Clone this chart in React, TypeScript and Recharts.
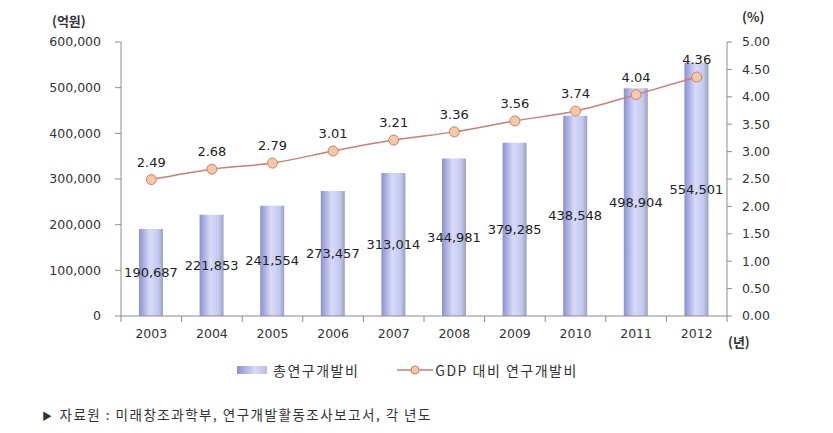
import React from 'react';
import {
  ComposedChart, Bar, Line, XAxis, YAxis, LabelList,
} from 'recharts';

const YEARS = ['2003', '2004', '2005', '2006', '2007', '2008', '2009', '2010', '2011', '2012'];
const TOTAL_RND = [190687, 221853, 241554, 273457, 313014, 344981, 379285, 438548, 498904, 554501];
const GDP_RATIO = [2.49, 2.68, 2.79, 3.01, 3.21, 3.36, 3.56, 3.74, 4.04, 4.36];
const LEFT_TICKS = [0, 100000, 200000, 300000, 400000, 500000, 600000];
const RIGHT_TICKS = [0, 0.5, 1, 1.5, 2, 2.5, 3, 3.5, 4, 4.5, 5];

const data = YEARS.map((year, i) => ({ year, total: TOTAL_RND[i], ratio: GDP_RATIO[i] }));

const FONT = '"DejaVu Sans", Verdana, sans-serif';
const KFONT = '"Noto Sans CJK KR", "Noto Sans", sans-serif';
const AXIS = '#8c8c8c';
const TEXT = '#333';
const LINE = '#c97f72';
const DOT = '#f7c8a4';
const X_MARGIN = 13;

const fmt = (v: number) => v.toLocaleString('en-US');

// category label plus Excel-style tick marks between categories
function YearTick(props: any) {
  const { x, y, width, payload, index } = props;
  const half = width / YEARS.length / 2;
  const axisY = y - X_MARGIN;
  return (
    <g>
      <line x1={x - half} x2={x - half} y1={axisY} y2={axisY + 6} stroke={AXIS} />
      {index === YEARS.length - 1 && (
        <line x1={x + half} x2={x + half} y1={axisY} y2={axisY + 6} stroke={AXIS} />
      )}
      <text x={x} y={y} dy="0.71em" textAnchor="middle" fill={TEXT} fontSize={12.5} fontFamily={FONT}>
        {payload.value}
      </text>
    </g>
  );
}

export default function App() {
  return (
    <div style={{ position: 'absolute', left: 0, top: 0, width: 833, height: 433, background: '#fff', fontFamily: FONT }}>
      {/* unit labels */}
      <div style={{ position: 'absolute', left: 52, top: 11, fontSize: 13, fontWeight: 'bold', color: TEXT, fontFamily: KFONT }}>(억원)</div>
      <div style={{ position: 'absolute', left: 742, top: 7, fontSize: 13, fontWeight: 'bold', color: TEXT, fontFamily: KFONT }}>(%)</div>
      <div style={{ position: 'absolute', left: 728, top: 332, fontSize: 13, fontWeight: 'bold', color: TEXT, fontFamily: KFONT }}>(년)</div>

      <div style={{ position: 'absolute', left: 0, top: 0 }}>
        <ComposedChart width={833} height={345} data={data} margin={{ top: 42, right: 0, bottom: 0, left: 0 }}>
          <defs>
            <linearGradient id="barGrad" x1="0" y1="0" x2="1" y2="0">
              <stop offset="0%" stopColor="#8a90d2" />
              <stop offset="45%" stopColor="#d8dbf7" />
              <stop offset="80%" stopColor="#c3c8ef" />
              <stop offset="100%" stopColor="#9aa1bf" />
            </linearGradient>
          </defs>
          <XAxis
            dataKey="year"
            axisLine={{ stroke: AXIS }}
            tickLine={false}
            tickSize={0}
            tickMargin={X_MARGIN}
            height={29}
            interval={0}
            tick={<YearTick />}
          />
          <YAxis
            yAxisId="left"
            domain={[0, 600000]}
            ticks={LEFT_TICKS}
            tickFormatter={fmt}
            width={121}
            tickSize={6}
            tickMargin={14}
            axisLine={{ stroke: AXIS }}
            tickLine={{ stroke: AXIS }}
            tick={{ fill: TEXT, fontSize: 12.5, fontFamily: FONT }}
          />
          <YAxis
            yAxisId="right"
            orientation="right"
            domain={[0, 5]}
            ticks={RIGHT_TICKS}
            tickFormatter={(v: number) => v.toFixed(2)}
            width={106}
            tickSize={5}
            tickMargin={10}
            axisLine={{ stroke: AXIS }}
            tickLine={{ stroke: AXIS }}
            tick={{ fill: TEXT, fontSize: 12.5, fontFamily: FONT }}
          />
          <Bar yAxisId="left" dataKey="total" barSize={24} fill="url(#barGrad)" isAnimationActive={false}>
            <LabelList dataKey="total" position="center" formatter={(v: number) => fmt(v)} fill="#222" fontSize={13} fontFamily={FONT} />
          </Bar>
          <Line
            yAxisId="right"
            dataKey="ratio"
            type="monotone"
            stroke={LINE}
            strokeWidth={1.5}
            dot={{ r: 5, fill: DOT, stroke: LINE, strokeWidth: 1 }}
            activeDot={false}
            isAnimationActive={false}
          >
            <LabelList dataKey="ratio" position="top" offset={13} formatter={(v: number) => v.toFixed(2)} fill="#222" fontSize={13} fontFamily={FONT} />
          </Line>
        </ComposedChart>
      </div>

      {/* legend */}
      <div style={{ position: 'absolute', left: 237, top: 360, display: 'flex', alignItems: 'center', fontFamily: KFONT, fontSize: 14, color: TEXT, letterSpacing: 1.5 }}>
        <span style={{ width: 30, height: 8, background: 'linear-gradient(to right, #8a90d2, #d8dbf7 60%, #b9bde6)', marginRight: 6 }} />
        <span>총연구개발비</span>
        <svg width={36} height={12} style={{ marginLeft: 38, marginRight: 2 }}>
          <line x1={0} y1={6} x2={36} y2={6} stroke={LINE} strokeWidth={1.5} />
          <circle cx={18} cy={6} r={4} fill={DOT} stroke={LINE} strokeWidth={1} />
        </svg>
        <span>GDP 대비 연구개발비</span>
      </div>

      {/* source */}
      <div style={{ position: 'absolute', left: 42, top: 404, fontFamily: KFONT, fontSize: 13.5, color: TEXT, letterSpacing: 1.5 }}>
        <span style={{ fontSize: 10, marginRight: 6 }}>▶</span>자료원 : 미래창조과학부, 연구개발활동조사보고서, 각 년도
      </div>
    </div>
  );
}
